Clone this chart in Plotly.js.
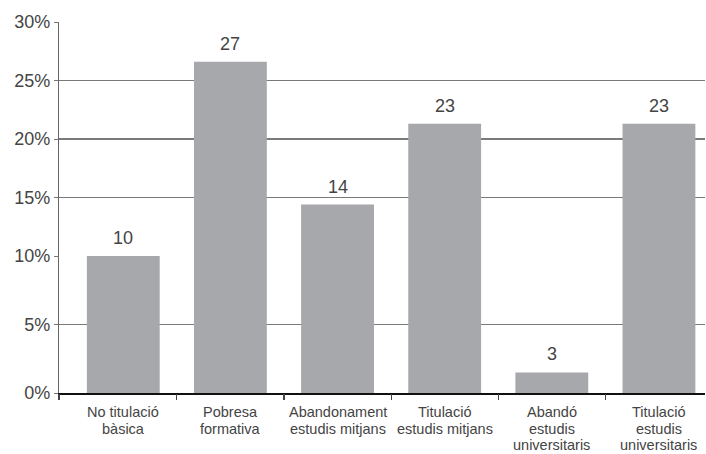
<!DOCTYPE html>
<html>
<head>
<meta charset="utf-8">
<script src="https://cdn.plot.ly/plotly-3.0.1.min.js"></script>
<style>html,body{margin:0;padding:0;background:#fff;}#chart{width:706px;height:454px;}</style>
</head>
<body>
<div id="chart"></div>
<script>
// Data
const categories = [
  "No titulació<br>bàsica",
  "Pobresa<br>formativa",
  "Abandonament<br>estudis mitjans",
  "Titulació<br>estudis mitjans",
  "Abandó<br>estudis<br>universitaris",
  "Titulació<br>estudis<br>universitaris"
];
const values = [10.0, 26.6, 14.4, 21.3, 1.5, 21.3];      // bar heights (%) as drawn
const valueLabels = ["10", "27", "14", "23", "3", "23"];  // printed labels
const lowerTicks = [0, 5];
const upperTicks = [10, 15, 20, 25, 30];

// The reference axis is drawn with 0–10 % taller than 10–30 %: use two stacked axes
const SPLIT = 10;
const idx = categories.map((c, i) => i);
const boundaries = [-0.6].concat(idx.slice(0, -1).map(i => i + 0.5));

const barColor = "#a7a8ab";
const font = "Liberation Sans, Arial, sans-serif";
const textColor = "#444444";

const lower = {
  type: "bar", x: idx, y: values.map(v => Math.min(v, SPLIT)),
  xaxis: "x", yaxis: "y", width: 0.68,
  marker: {color: barColor, line: {width: 0}}, hoverinfo: "skip"
};
const upper = {
  type: "bar", x: idx, y: values.map(v => v > SPLIT ? v - SPLIT : null),
  base: SPLIT, xaxis: "x", yaxis: "y2", width: 0.68,
  marker: {color: barColor, line: {width: 0}}, hoverinfo: "skip"
};
const tickHolder = {
  type: "scatter", mode: "markers", x: boundaries, y: boundaries.map(() => 0),
  xaxis: "x2", yaxis: "y", marker: {opacity: 0}, hoverinfo: "skip", showlegend: false
};

const annotations = values.map((v, i) => ({
  x: i, y: v, xref: "x", yref: v > SPLIT ? "y2" : "y",
  text: valueLabels[i], showarrow: false, yanchor: "bottom", yshift: 6,
  font: {family: font, size: 18, color: textColor}
}));

// category labels: one annotation per line so the line spacing matches the reference
categories.forEach((c, i) => {
  c.split("<br>").forEach((line, j) => {
    annotations.push({
      x: i, xref: "x", y: 0, yref: "paper", yanchor: "middle",
      yshift: -(19 + 16.5 * j), text: line, showarrow: false, borderpad: 0,
      font: {family: font, size: 14.5, color: textColor}
    });
  });
});

const yCommon = {
  ticks: "outside", ticklen: 4, tickcolor: "#777", tickwidth: 1,
  showgrid: true, gridcolor: "#7a7a7a", gridwidth: 1.2,
  showline: true, linecolor: "#666", linewidth: 1.2,
  zeroline: false, fixedrange: true,
  tickfont: {family: font, size: 18, color: textColor}
};

const split = 137 / 371;
const layout = {
  width: 706, height: 454,
  margin: {l: 59, r: 1, t: 22, b: 61},
  paper_bgcolor: "#fff", plot_bgcolor: "#fff",
  showlegend: false,
  xaxis: {
    type: "linear", range: [-0.6, 5.43], tickvals: idx, showticklabels: false,
    ticks: "", showgrid: false, zeroline: false,
    showline: true, linecolor: "#111", linewidth: 1.5, anchor: "y"
  },
  xaxis2: {
    type: "linear", range: [-0.6, 5.43], overlaying: "x", anchor: "y", side: "bottom",
    tickvals: boundaries, ticks: "outside", ticklen: 6, tickcolor: "#444", tickwidth: 1.2,
    showticklabels: false, showgrid: false, zeroline: false, showline: false
  },
  yaxis: Object.assign({domain: [0, split], range: [0, SPLIT], tickvals: lowerTicks,
    ticktext: lowerTicks.map(v => v + "%"), anchor: "x"}, yCommon),
  yaxis2: Object.assign({domain: [split, 1], range: [SPLIT, 30], tickvals: upperTicks,
    ticktext: upperTicks.map(v => v + "%"), anchor: "x"}, yCommon),
  annotations: annotations,
  bargap: 0.32
};

Plotly.newPlot("chart", [lower, upper, tickHolder], layout, {staticPlot: true, displayModeBar: false});
</script>
</body>
</html>
